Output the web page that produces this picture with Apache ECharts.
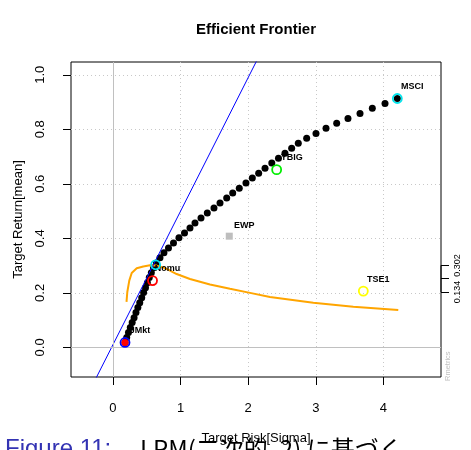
<!DOCTYPE html>
<html><head><meta charset="utf-8">
<script src="https://cdn.jsdelivr.net/npm/echarts@6/dist/echarts.min.js"></script>
<style>html,body{margin:0;padding:0;background:#fff}#c{width:471px;height:450px}</style>
</head><body><div id="c"></div>
<script>
// ---------- data ----------
const frontierRisk = [0.178,0.203,0.229,0.256,0.284,0.312,0.340,0.368,0.396,0.425,
  0.453,0.481,0.509,0.537,0.567,0.599,0.643,0.695,0.754,0.821,
  0.895,0.976,1.058,1.139,1.213,1.302,1.395,1.494,1.583,1.682,
  1.771,1.868,1.967,2.061,2.155,2.249,2.349,2.448,2.544,2.643,
  2.741,2.865,3.003,3.151,3.309,3.476,3.654,3.836,4.024,4.206];
const frontierReturn = [0.018,0.036,0.055,0.073,0.091,0.109,0.128,0.146,0.164,0.182,
  0.201,0.219,0.237,0.256,0.274,0.292,0.310,0.329,0.347,0.365,
  0.383,0.402,0.420,0.438,0.456,0.475,0.493,0.511,0.530,0.548,
  0.566,0.584,0.603,0.621,0.639,0.657,0.676,0.694,0.712,0.731,
  0.749,0.767,0.785,0.804,0.822,0.840,0.858,0.877,0.895,0.913];
const ratioRisk = [0.200,0.212,0.241,0.277,0.351,0.448,0.547,0.646,0.744,0.843,0.942,1.139,1.435,1.731,2.027,2.322,2.963,3.555,4.220];
const ratioValue = [0.167,0.203,0.245,0.273,0.290,0.297,0.301,0.300,0.293,0.282,0.269,0.251,0.231,0.215,0.200,0.185,0.164,0.149,0.137];
const tangentRisk = [-0.4, 2.3];
const tangentReturn = [-0.186, 1.137];
const assetNames = ['JMkt','Nomu','YBIG','TSE1','MSCI'];
const assetRisk = [0.178,0.585,2.421,3.703,4.206];
const assetReturn = [0.018,0.245,0.652,0.2065,0.913];
const ewpRisk = [1.72], ewpReturn = [0.408];
const minVarRisk = [0.178], minVarReturn = [0.018];
const tangencyRisk = [0.631], tangencyReturn = [0.303];
const xTicks = [0,1,2,3,4];
const yTicks = [0,0.2,0.4,0.6,0.8,1.0];
const rightTicks = [0.2029,0.2536,0.3007];
const rightLabelValues = [0.2029,0.3007];
const rightLabelTexts = ['0.134','0.302'];

// ---------- style ----------
const XMIN=-0.621, XMAX=4.852, YMIN=-0.1087, YMAX=1.047;
const FONT='"Liberation Sans", Arial, sans-serif';
const assetColor = {JMkt:'#0000ff',Nomu:'#ff0000',YBIG:'#00ee00',TSE1:'#ffff00',MSCI:'#00e5ee'};
const zip=(a,b)=>a.map((v,i)=>[v,b[i]]);

const chart = echarts.init(document.getElementById('c'), null, {renderer:'canvas'});
chart.setOption({
  animation:false,
  grid:{left:71,top:62,width:370,height:319,show:true,borderColor:'#000',borderWidth:1,backgroundColor:'transparent'},
  xAxis:{type:'value',min:XMIN,max:XMAX,
    axisLine:{show:false,onZero:false},
    axisTick:{show:true,customValues:xTicks,length:8,lineStyle:{color:'#000'}},
    axisLabel:{customValues:xTicks,fontSize:13,color:'#000',fontFamily:FONT,margin:25},
    splitLine:{show:true,lineStyle:{type:[1,3],color:'#c8c8c8'}},
    name:'Target Risk[Sigma]',nameLocation:'middle',nameGap:55,
    nameTextStyle:{fontSize:13,color:'#000',fontFamily:FONT}},
  yAxis:[{type:'value',min:YMIN,max:YMAX,
    axisLine:{show:false,onZero:false},
    axisTick:{show:true,customValues:yTicks,length:8,lineStyle:{color:'#000'}},
    axisLabel:{customValues:yTicks,rotate:90,fontSize:13,color:'#000',fontFamily:FONT,margin:24,
      formatter:v=>v.toFixed(1)},
    splitLine:{show:true,lineStyle:{type:[1,3],color:'#c8c8c8'}},
    name:'Target Return[mean]',nameLocation:'middle',nameGap:46,
    nameTextStyle:{fontSize:13,color:'#000',fontFamily:FONT}},
   {type:'value',min:YMIN,max:YMAX,position:'right',
    axisLine:{show:false,onZero:false},
    axisTick:{show:true,customValues:rightTicks,length:8,lineStyle:{color:'#000'}},
    axisLabel:{customValues:rightLabelValues,rotate:90,fontSize:9,color:'#000',fontFamily:FONT,margin:12,
      formatter:v=>{let b=0;rightLabelValues.forEach((x,i)=>{if(Math.abs(x-v)<Math.abs(rightLabelValues[b]-v))b=i;});return rightLabelTexts[b];}},
    splitLine:{show:false}}],
  series:[
    {type:'line',data:[],z:1,markLine:{silent:true,symbol:'none',label:{show:false},
      lineStyle:{type:'solid',color:'#c0c0c0',width:1},data:[{xAxis:0},{yAxis:0}]}},
    {type:'scatter',data:zip(frontierRisk,frontierReturn),symbolSize:7,itemStyle:{color:'#000',opacity:1},z:2},
    {type:'line',data:zip(ratioRisk,ratioValue),showSymbol:false,lineStyle:{color:'#ffa500',width:2},z:3},
    {type:'line',data:zip(tangentRisk,tangentReturn),showSymbol:false,lineStyle:{color:'#0000ff',width:1},z:3},
    {type:'scatter',data:zip(ewpRisk,ewpReturn).map(d=>({value:d,name:'EWP'})),symbol:'rect',symbolSize:7,
      itemStyle:{color:'#bebebe',opacity:1},z:4,
      label:{show:true,position:'inside',offset:[15,-11],formatter:'{b}',fontSize:9,fontWeight:'bold',color:'#000',fontFamily:FONT}},
    {type:'scatter',data:assetNames.map((n,i)=>({value:[assetRisk[i],assetReturn[i]],name:n,
      itemStyle:{borderColor:assetColor[n]}})),symbolSize:9,
      itemStyle:{color:'transparent',borderWidth:1.8,opacity:1},z:5,
      label:{show:true,position:'inside',offset:[15,-12],formatter:'{b}',fontSize:9,fontWeight:'bold',color:'#000',fontFamily:FONT}},
    {type:'scatter',data:zip(minVarRisk,minVarReturn),symbolSize:7,itemStyle:{color:'#ff0000',opacity:1},z:6},
    {type:'scatter',data:zip(tangencyRisk,tangencyReturn),symbolSize:9,itemStyle:{color:'transparent',borderColor:'#00e5ee',borderWidth:1.8,opacity:1},z:6},
    {type:'line',yAxisIndex:1,data:[[XMAX,rightTicks[0]],[XMAX,rightTicks[2]]],clip:false,showSymbol:false,
      lineStyle:{color:'#000',width:1},z:7}
  ],
  graphic:[
    {type:'text',x:256,y:30,style:{text:'Efficient Frontier',font:'bold 15px '+FONT,fill:'#000',align:'center',verticalAlign:'middle'}},
    {type:'text',x:448,y:381,rotation:Math.PI/2,style:{text:'Rmetrics',font:'7.5px '+FONT,fill:'#c0c0c0',align:'left',verticalAlign:'middle'}},
    {type:'text',x:5,y:437,z:-1,style:{text:'Figure 11:',font:'24px '+FONT,fill:'#3333b3',align:'left',verticalAlign:'top'}},
    {type:'text',x:140,y:437,z:-1,style:{text:'LPM(二次的, 2) に基づく',font:'24px "Noto Sans CJK JP", '+FONT,fill:'#000',align:'left',verticalAlign:'top'}}
  ]
});
</script></body></html>
